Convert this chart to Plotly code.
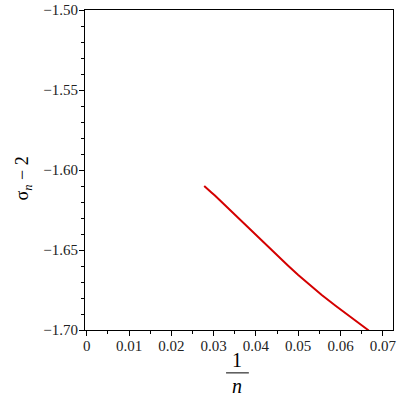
import plotly.graph_objects as go

# sample sizes n and the measured sigma_n - 2 values
n_values = [15, 16, 17, 18, 19, 20, 21, 22, 23, 24, 25,
            26, 27, 28, 29, 30, 31, 32, 33, 34, 35, 36]
sigma_minus_2 = [-1.7003, -1.6922, -1.6848, -1.6781, -1.6717, -1.6656,
                 -1.6598, -1.6543, -1.6492, -1.6444, -1.6400, -1.6361,
                 -1.6325, -1.6292, -1.6261, -1.6233, -1.6207, -1.6183,
                 -1.6160, -1.6139, -1.6119, -1.6100]

x_ticks = [0, 0.01, 0.02, 0.03, 0.04, 0.05, 0.06, 0.07]
y_ticks = [-1.70, -1.65, -1.60, -1.55, -1.50]

inv_n = [1.0 / n for n in n_values]

serif = "Liberation Serif, Times New Roman, serif"

fig = go.Figure()
fig.add_trace(go.Scatter(
    x=inv_n, y=sigma_minus_2, mode="lines",
    line=dict(color="#d40000", width=2),
    showlegend=False, hoverinfo="skip",
))

axis_common = dict(
    showgrid=False, zeroline=False,
    showline=True, linecolor="black", linewidth=1, mirror=True,
    ticks="outside", ticklen=5, tickwidth=1, tickcolor="black",
    tickfont=dict(family=serif, size=15, color="#222"),
    automargin=False,
)

fig.update_xaxes(
    range=[-0.0004, 0.0724],
    tickvals=x_ticks, ticktext=[f"{v:g}" for v in x_ticks],
    ticklabelstandoff=-3,
    minor=dict(tick0=0, dtick=0.005, ticks="outside", ticklen=3,
               tickcolor="black", showgrid=False),
    **axis_common,
)
fig.update_yaxes(
    range=[-1.70, -1.50],
    tickvals=y_ticks, ticktext=[f"\u2212{abs(v):.2f}" for v in y_ticks],
    ticklabelstandoff=-2,
    minor=dict(tick0=-1.5, dtick=0.01, ticks="outside", ticklen=3,
               tickcolor="black", showgrid=False),
    **axis_common,
)

# axis titles drawn by hand: 1/n as a stacked fraction, sigma_n - 2 rotated
title_font = dict(family=serif, size=20, color="black")
fig.update_layout(
    width=400, height=400,
    margin=dict(l=85, r=7, t=10, b=70, autoexpand=False),
    paper_bgcolor="white", plot_bgcolor="white",
    annotations=[
        dict(text="1", x=0.494, y=-0.094, xref="paper", yref="paper",
             xanchor="center", yanchor="middle",
             showarrow=False, font=title_font),
        dict(text="<i>n</i>", x=0.494, y=-0.175, xref="paper", yref="paper",
             xanchor="center", yanchor="middle",
             showarrow=False, font=title_font),
        dict(text="σ<sub><i>n</i></sub> − 2", x=-0.2, y=0.475,
             xref="paper", yref="paper", textangle=-90, showarrow=False,
             xanchor="center", yanchor="middle",
             font=dict(family=serif, size=18, color="black")),
    ],
    shapes=[
        dict(type="line", xref="paper", yref="paper",
             x0=0.458, x1=0.532, y0=-0.134, y1=-0.134,
             line=dict(color="black", width=1)),
    ],
)

# drop the default 8px body margin so the 400x400 figure fills the page
fig.write_html("out.html", config={"displayModeBar": False},
               post_script="document.body.style.margin = '0';")
